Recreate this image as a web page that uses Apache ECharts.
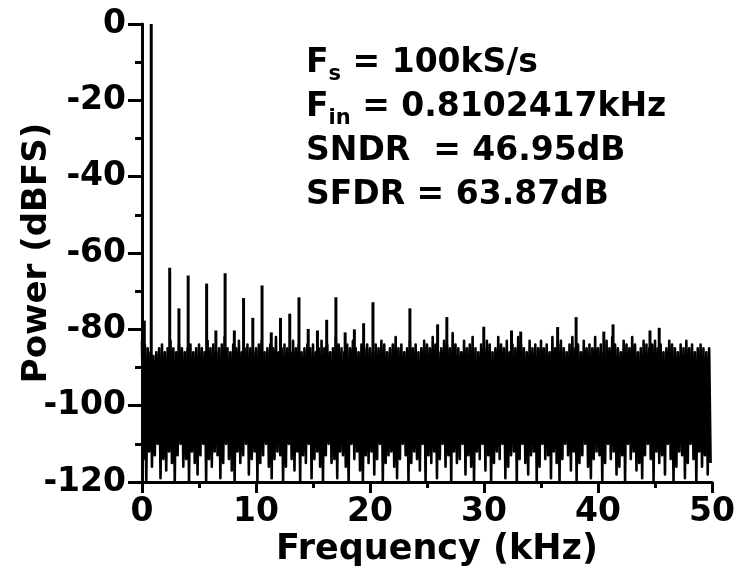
<!DOCTYPE html>
<html>
<head>
<meta charset="utf-8">
<script src="https://cdn.jsdelivr.net/npm/echarts@6/dist/echarts.min.js"></script>
<style>
  html, body { margin: 0; padding: 0; background: #fff; }
  #chart { width: 743px; height: 578px; }
</style>
</head>
<body>
<div id="chart"></div>
<script>
// FFT spectrum of the ADC output, 0 - 50 kHz (Nyquist for 100 kS/s)

// noise floor, one pair of values (upper / lower excursion) per 0.25 kHz bin
const binKHz = 0.25;
const noiseTopDb = [
  -83,-84,-85,-86,-87,-86,-85,-84,-86,-85,-83,-85,-86,-84,-85,-86,-85,-84,-86,-85,
  -84,-85,-86,-83,-85,-84,-86,-85,-84,-82,-85,-86,-84,-85,-83,-86,-85,-84,-85,-86,
  -85,-84,-83,-86,-85,-84,-85,-82,-86,-85,-84,-85,-86,-83,-85,-84,-86,-85,-84,-85,
  -84,-86,-85,-83,-85,-84,-86,-85,-82,-84,-85,-86,-84,-85,-83,-85,-86,-84,-85,-84,
  -85,-86,-84,-85,-83,-84,-86,-85,-84,-82,-85,-84,-86,-85,-83,-85,-84,-86,-85,-83,
  -84,-85,-82,-84,-86,-85,-83,-84,-85,-81,-84,-85,-86,-83,-85,-84,-82,-85,-86,-84,
  -85,-83,-84,-86,-85,-82,-84,-85,-83,-86,-84,-85,-82,-84,-85,-86,-83,-85,-84,-85,
  -83,-85,-84,-86,-82,-85,-84,-83,-85,-86,-84,-82,-85,-84,-86,-83,-85,-84,-85,-82,
  -85,-84,-86,-83,-85,-82,-84,-85,-86,-83,-84,-85,-82,-84,-86,-85,-83,-84,-85,-84,
  -83,-85,-84,-86,-85,-83,-84,-85,-86,-84,-85,-83,-85,-84,-86,-85,-84,-85,-86,-85
];
const noiseBottomDb = [
  -114,-120,-112,-116,-113,-110,-119,-114,-117,-112,-115,-120,-113,-110,-116,-114,-120,-112,-115,-118,
  -113,-110,-120,-114,-116,-112,-113,-119,-115,-110,-114,-117,-120,-112,-115,-113,-110,-118,-114,-112,
  -120,-115,-113,-110,-116,-119,-114,-112,-113,-120,-116,-110,-114,-117,-112,-120,-113,-115,-110,-119,
  -114,-112,-116,-120,-113,-110,-115,-114,-119,-112,-113,-116,-120,-110,-114,-112,-117,-120,-113,-115,
  -112,-118,-114,-110,-120,-115,-113,-112,-116,-119,-114,-110,-113,-120,-115,-112,-114,-117,-110,-120,
  -113,-115,-112,-119,-114,-110,-116,-113,-120,-112,-115,-114,-110,-118,-113,-116,-120,-112,-114,-110,
  -117,-113,-120,-115,-112,-114,-110,-119,-116,-113,-112,-120,-114,-110,-115,-118,-113,-112,-120,-116,
  -110,-114,-113,-119,-112,-115,-120,-114,-110,-113,-117,-112,-120,-115,-113,-110,-116,-119,-114,-112,
  -113,-120,-115,-110,-114,-112,-118,-116,-113,-120,-110,-114,-112,-117,-115,-119,-113,-110,-114,-120,
  -112,-115,-113,-118,-110,-114,-120,-116,-112,-113,-119,-115,-110,-114,-120,-112,-116,-113,-118,-115
];

// discrete tones: DC leakage, fundamental and harmonic spurs
const toneKHz = [0.2, 0.8102417, 2.43, 3.24, 4.05, 5.67, 6.48, 7.29, 8.10, 8.91, 9.72,
  10.53, 11.34, 12.15, 12.96, 13.77, 14.58, 15.39, 16.20, 17.01, 17.82, 18.63, 19.44,
  20.26, 23.50, 25.93, 26.74, 29.98, 32.41, 33.22, 36.46, 38.08, 40.51, 41.32, 44.56, 45.37];
const toneDb = [-77.7, 0, -63.87, -74.5, -65.9, -68.0, -80.3, -65.3, -80.3, -71.8, -77.0,
  -68.5, -80.8, -77.0, -75.9, -71.6, -79.9, -80.3, -77.5, -71.6, -80.8, -80.0, -78.4,
  -72.9, -74.5, -78.7, -76.8, -79.3, -80.3, -80.6, -79.4, -76.8, -80.6, -78.7, -80.3, -79.6];

const summaryLines = [
  ['F', 's', ' = 100kS/s'],
  ['F', 'in', ' = 0.8102417kHz'],
  ['SNDR  = 46.95dB', '', ''],
  ['SFDR = 63.87dB', '', '']
];

const FONT = '"DejaVu Sans", "Liberation Sans", Arial, sans-serif';

// noise trace: alternate between the upper and lower excursion of each bin
const noiseData = [];
for (let i = 0; i < noiseTopDb.length; i++) {
  noiseData.push([i * binKHz, noiseTopDb[i]]);
  noiseData.push([i * binKHz + binKHz / 2, noiseBottomDb[i]]);
}
const toneData = toneKHz.map((f, i) => [f, toneDb[i]]);

const summaryText = summaryLines.map(l =>
  '{b|' + l[0] + '}' + (l[1] ? '{s|' + l[1] + '}' : '') + (l[2] ? '{b|' + l[2] + '}' : '')
).join('\n');

const chart = echarts.init(document.getElementById('chart'));
chart.setOption({
  animation: false,
  backgroundColor: '#fff',
  grid: { left: 142, right: 31, top: 24, bottom: 96, containLabel: false, outerBoundsMode: 'none' },
  xAxis: {
    type: 'value', min: 0, max: 50, interval: 10,
    name: 'Frequency (kHz)', nameLocation: 'middle', nameGap: 50, nameMoveOverlap: false,
    nameTextStyle: { fontFamily: FONT, fontWeight: 'bold', fontSize: 35, color: '#000', padding: [0, 0, 0, 20] },
    axisLine: { show: true, onZero: false, lineStyle: { color: '#000', width: 3 } },
    axisTick: { show: true, inside: false, length: 11, lineStyle: { color: '#000', width: 3 } },
    minorTick: { show: true, splitNumber: 2, length: 6, lineStyle: { color: '#000', width: 3 } },
    axisLabel: { fontFamily: FONT, fontWeight: 'bold', fontSize: 33, color: '#000', margin: 14 },
    splitLine: { show: false }
  },
  yAxis: {
    type: 'value', min: -120, max: 0, interval: 20,
    name: 'Power (dBFS)', nameLocation: 'middle', nameGap: 88, nameRotate: 90, nameMoveOverlap: false,
    nameTextStyle: { fontFamily: FONT, fontWeight: 'bold', fontSize: 34, color: '#000' },
    axisLine: { show: true, onZero: false, lineStyle: { color: '#000', width: 3 } },
    axisTick: { show: true, inside: false, length: 14, lineStyle: { color: '#000', width: 3 } },
    minorTick: { show: true, splitNumber: 2, length: 7, lineStyle: { color: '#000', width: 3 } },
    axisLabel: { fontFamily: FONT, fontWeight: 'bold', fontSize: 33, color: '#000', margin: 16 },
    splitLine: { show: false }
  },
  series: [
    {
      type: 'line',
      data: noiseData,
      showSymbol: false,
      symbol: 'none',
      silent: true,
      clip: true,
      lineStyle: { color: '#000', width: 2.6, join: 'round' },
      z: 2
    },
    {
      type: 'custom',
      data: toneData,
      silent: true,
      clip: true,
      encode: { x: 0, y: 1 },
      renderItem: function (params, api) {
        const top = api.coord([api.value(0), api.value(1)]);
        const base = api.coord([api.value(0), -100]);
        return {
          type: 'line',
          shape: { x1: top[0], y1: top[1], x2: base[0], y2: base[1] },
          style: { stroke: '#000', lineWidth: 3, lineCap: 'butt' }
        };
      },
      z: 3
    }
  ],
  graphic: [
    {
      type: 'text',
      left: 306,
      top: 47,
      silent: true,
      style: {
        text: summaryText,
        fill: '#000',
        rich: {
          b: { fontFamily: FONT, fontWeight: 'bold', fontSize: 33, lineHeight: 44, verticalAlign: 'middle', fill: '#000' },
          s: { fontFamily: FONT, fontWeight: 'bold', fontSize: 21, lineHeight: 27, verticalAlign: 'bottom', fill: '#000' }
        }
      }
    }
  ]
});
</script>
</body>
</html>
